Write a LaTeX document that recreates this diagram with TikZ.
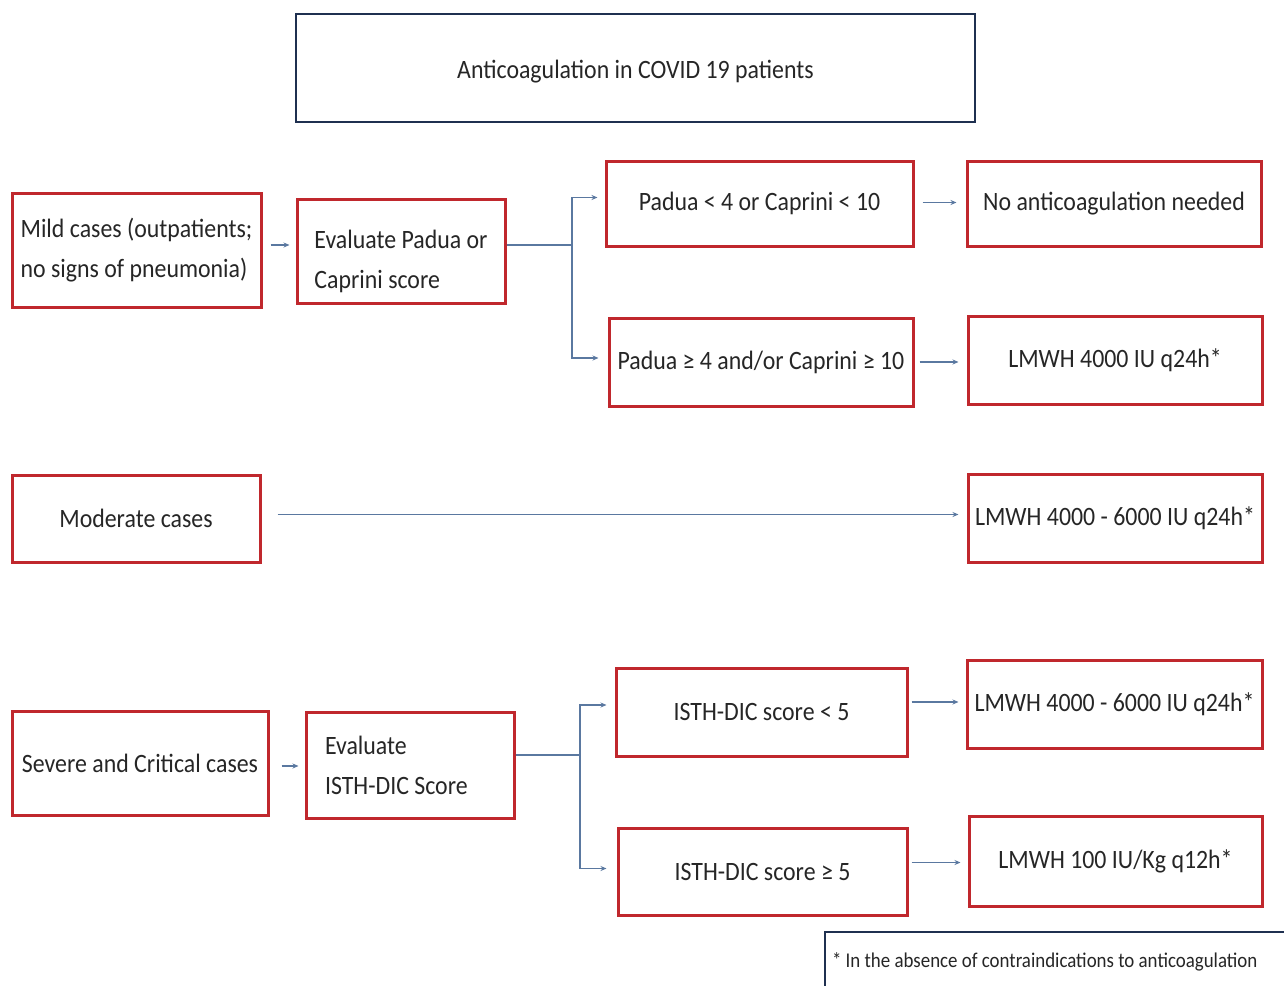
\documentclass[tikz,border=0pt]{standalone}
\usepackage{fontspec}
\setmainfont{Carlito}[FakeStretch=0.9]
\usetikzlibrary{arrows.meta}
\definecolor{boxred}{HTML}{C0282D}
\definecolor{navy}{HTML}{1F3050}
\definecolor{arr}{HTML}{5A78A0}
\definecolor{txt}{HTML}{262626}
\begin{document}
\begin{tikzpicture}[x=1pt,y=-1pt,
  rbox/.style={draw=boxred,line width=3pt,fill=white,rectangle,inner sep=6pt,text=txt,font=\fontsize{26.5}{40}\selectfont},
  nbox/.style={draw=navy,line width=2.5pt,fill=white,rectangle,text=txt,font=\fontsize{26.5}{40}\selectfont},
  conn/.style={draw=arr,line width=1.3pt},
  arrow/.style={conn,-{Stealth[length=6pt,width=5pt]}}]
\useasboundingbox[fill=white] (0,0) rectangle (1284,985);
% title
\node[nbox,minimum width=679pt,minimum height=108pt] (title) at (635.5,68) {\raisebox{-4pt}[\height][\depth]{Anticoagulation in COVID 19 patients}};
% mild row
\node[rbox,minimum width=249pt,minimum height=114pt,align=left] (mild) at (136.5,250) {Mild cases (outpatients;\\no signs of pneumonia)};
\node[rbox,minimum width=208pt,minimum height=104pt] (evp) at (401,251) {\raisebox{-9pt}[\height][\depth]{\begin{tabular}{@{}l@{}}Evaluate Padua or\\Caprini score\end{tabular}}};
\node[rbox,minimum width=307pt,minimum height=85pt] (plo) at (759.5,203.5) {Padua < 4 or Caprini < 10};
\node[rbox,minimum width=294pt,minimum height=85pt] (none) at (1114,203.5) {No anticoagulation needed};
\node[rbox,minimum width=304pt,minimum height=88pt,inner sep=2pt] (phi) at (761,362) {Padua ≥ 4 and/or Caprini ≥ 10};
\node[rbox,minimum width=294pt,minimum height=88pt] (l1) at (1115,360) {LMWH 4000 IU q24h*};
% moderate
\node[rbox,minimum width=248pt,minimum height=87pt] (mod) at (136,518.5) {Moderate cases};
\node[rbox,minimum width=294pt,minimum height=88pt,inner sep=2pt] (l2) at (1115,518) {LMWH 4000 - 6000 IU q24h*};
% severe
\node[rbox,minimum width=256pt,minimum height=104pt,inner sep=2pt] (sev) at (140,763) {Severe and Critical cases};
\node[rbox,minimum width=208pt,minimum height=106pt,text width=170pt,align=flush left] (evi) at (410,765) {Evaluate\\ISTH-DIC Score};
\node[rbox,minimum width=291pt,minimum height=88pt] (ilo) at (761.5,712) {ISTH-DIC score < 5};
\node[rbox,minimum width=295pt,minimum height=88pt,inner sep=2pt] (l3) at (1114.5,704) {LMWH 4000 - 6000 IU q24h*};
\node[rbox,minimum width=289pt,minimum height=87pt] (ihi) at (762.5,871.5) {ISTH-DIC score ≥ 5};
\node[rbox,minimum width=293pt,minimum height=90pt] (l4) at (1115.5,861) {LMWH 100 IU/Kg q12h*};
% footnote
\node[nbox,line width=2pt,minimum width=470pt,minimum height=60pt,anchor=north west,font=\fontsize{21}{25}\selectfont,text width=456pt,align=flush left,inner sep=6pt] (foot) at (824,931) {* In the absence of contraindications to anticoagulation};
% junctions
\coordinate (j1) at (572,245);
\coordinate (j2) at (580,755);
% connectors
\draw[arrow,shorten <=8pt,shorten >=6pt] ([yshift=5pt]mild.east) -- ([yshift=5pt]mild.east -| evp.west);
\draw[conn] ([yshift=6pt]evp.east) -- (j1);
\draw[arrow,shorten >=7pt] (j1) |- ([yshift=6pt]plo.west);
\draw[arrow,shorten >=9pt] (j1) |- ([yshift=4pt]phi.west);
\draw[arrow,shorten <=8pt,shorten >=9pt] ([yshift=1pt]plo.east) -- ([yshift=1pt]plo.east -| none.west);
\draw[arrow,shorten <=5pt,shorten >=8pt] (phi.east) -- (phi.east -| l1.west);
\draw[arrow,shorten <=16pt,shorten >=8pt] ([yshift=4pt]mod.east) -- ([yshift=4pt]mod.east -| l2.west);
\draw[arrow,shorten <=12pt,shorten >=6pt] ([yshift=-3pt]sev.east) -- ([yshift=-3pt]sev.east -| evi.west);
\draw[conn] ([yshift=10pt]evi.east) -- (j2);
\draw[arrow,shorten >=8pt] (j2) |- ([yshift=7pt]ilo.west);
\draw[arrow,shorten >=10pt] (j2) |- ([yshift=3pt]ihi.west);
\draw[arrow,shorten <=3pt,shorten >=7pt] ([yshift=10pt]ilo.east) -- ([yshift=10pt]ilo.east -| l3.west);
\draw[arrow,shorten <=3pt,shorten >=7pt] ([yshift=9pt]ihi.east) -- ([yshift=9pt]ihi.east -| l4.west);
\end{tikzpicture}
\end{document}
